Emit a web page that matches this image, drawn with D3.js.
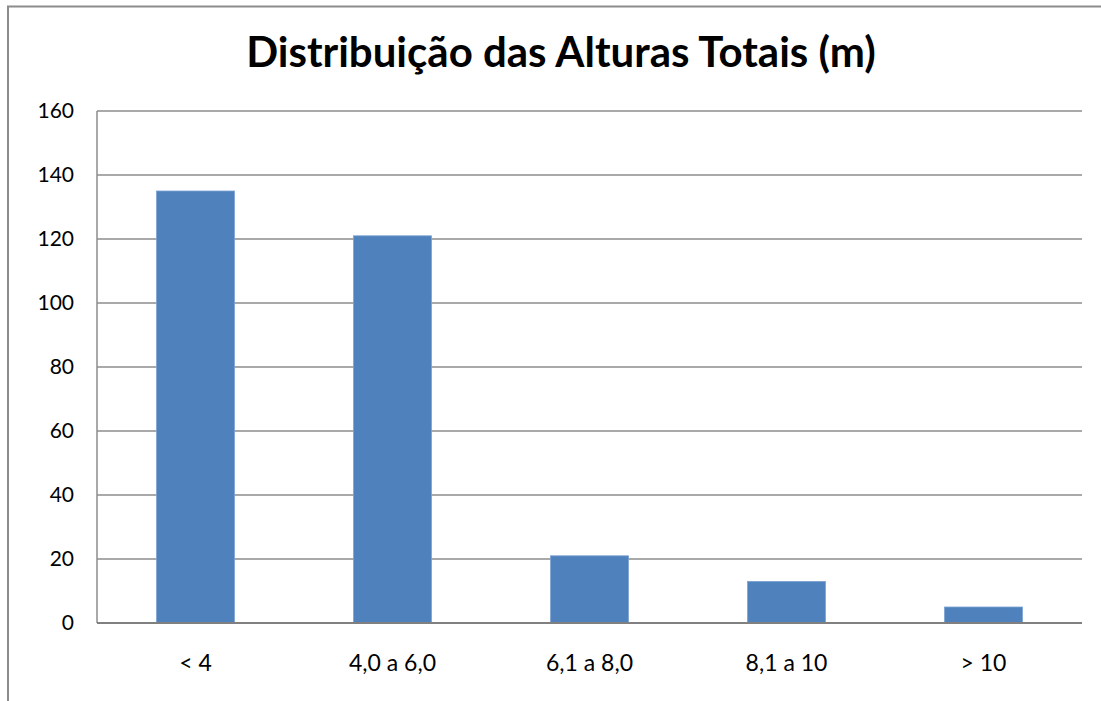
<!DOCTYPE html>
<html>
<head>
<meta charset="utf-8">
<script src="https://d3js.org/d3.v7.min.js"></script>
<style>
  body { margin: 0; background: #fff; }
  text { font-family: Lato, "Open Sans", sans-serif; fill: #000; }
</style>
</head>
<body>
<div id="chart"></div>
<script>
// data
const categories = ["< 4", "4,0 a 6,0", "6,1 a 8,0", "8,1 a 10", "> 10"];
const counts = [135, 121, 21, 13, 5];
const yTicks = [0, 20, 40, 60, 80, 100, 120, 140, 160];
const title = "Distribuição das Alturas Totais (m)";

const width = 1101;
const height = 701;
const margin = { top: 111, right: 19, bottom: 78, left: 97 };

const svg = d3.select("#chart").append("svg")
    .attr("width", width)
    .attr("height", height);

// outer chart frame (runs off the right and bottom edge)
svg.append("rect")
    .attr("x", 8).attr("y", 6.5)
    .attr("width", 1110).attr("height", 720)
    .attr("fill", "none")
    .attr("stroke", "#8c8c8c")
    .attr("stroke-width", 2);

const x = d3.scaleBand()
    .domain(categories)
    .range([margin.left, width - margin.right])
    .paddingInner(0.604)
    .paddingOuter(0.302);

const y = d3.scaleLinear()
    .domain([0, 160])
    .range([height - margin.bottom, margin.top]);

// gridlines
svg.append("g")
    .selectAll("line")
    .data(yTicks)
    .join("line")
    .attr("x1", margin.left)
    .attr("x2", width - margin.right)
    .attr("y1", d => y(d))
    .attr("y2", d => y(d))
    .attr("stroke", "#8c8c8c")
    .attr("stroke-width", 1.5);

// left axis line
svg.append("line")
    .attr("x1", margin.left).attr("x2", margin.left)
    .attr("y1", y(160)).attr("y2", y(0))
    .attr("stroke", "#8c8c8c")
    .attr("stroke-width", 1.5);

// bars
svg.append("g")
    .selectAll("rect")
    .data(counts)
    .join("rect")
    .attr("x", (d, i) => x(categories[i]))
    .attr("y", d => y(d))
    .attr("width", x.bandwidth())
    .attr("height", d => y(0) - y(d))
    .attr("fill", "#4f81bd")
    .attr("stroke", "#7ea3d3")
    .attr("stroke-width", 0.8);

// bottom axis line on top of bars
svg.append("line")
    .attr("x1", margin.left).attr("x2", width - margin.right)
    .attr("y1", y(0)).attr("y2", y(0))
    .attr("stroke", "#808080")
    .attr("stroke-width", 2);

// y labels
svg.append("g")
    .selectAll("text")
    .data(yTicks)
    .join("text")
    .attr("x", 74)
    .attr("y", d => y(d))
    .attr("dy", "0.35em")
    .attr("text-anchor", "end")
    .style("font-size", "21px")
    .text(d => d);

// x labels
svg.append("g")
    .selectAll("text")
    .data(categories)
    .join("text")
    .attr("x", d => x(d) + x.bandwidth() / 2)
    .attr("y", 663)
    .attr("dy", "0.35em")
    .attr("text-anchor", "middle")
    .style("font-size", "23px")
    .text(d => d);

// title
svg.append("text")
    .attr("x", 561)
    .attr("y", 67)
    .attr("text-anchor", "middle")
    .style("font-size", "42px")
    .style("font-weight", "bold")
    .text(title);
</script>
</body>
</html>
